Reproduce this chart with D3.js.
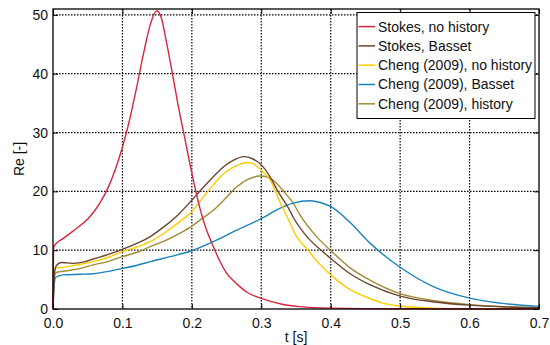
<!DOCTYPE html>
<html><head><meta charset="utf-8">
<script src="https://cdn.jsdelivr.net/npm/d3@7"></script>
<style>body{margin:0;background:#fff}svg{display:block;font-family:"Liberation Sans",Arial,sans-serif}</style>
</head><body><svg id="c" width="550" height="345"></svg>
<script>
const seriesNames = ["Stokes, no history","Stokes, Basset","Cheng (2009), no history","Cheng (2009), Basset","Cheng (2009), history"];
const seriesColors = ["#d7263d","#6b4530","#ffcc00","#1a82bd","#a18c35"];
const xTicks = [0,0.1,0.2,0.3,0.4,0.5,0.6,0.7];
const yTicks = [0,10,20,30,40,50];

const stokesNoHistory = [[0,0],[0.001,10.5],[0.005,11.2],[0.015,12.0],[0.025,12.9],[0.035,13.8],[0.05,15.3],[0.06,16.7],[0.07,18.5],[0.08,20.8],[0.09,23.8],[0.1,27.5],[0.11,32.0],[0.12,37.4],[0.13,43.2],[0.14,48.3],[0.1494,50.7],[0.156,49.5],[0.1624,46],[0.172,40],[0.18,34.8],[0.189,29.5],[0.197,24.8],[0.205,20.4],[0.211,17.4],[0.22,13.8],[0.231,10.6],[0.24,8.2],[0.25,6.1],[0.26,4.8],[0.269,3.8],[0.28,2.8],[0.3,1.8],[0.33,0.8],[0.355,0.4],[0.4,0.15],[0.5,0.03],[0.7,0]];
const stokesBasset = [[0,0],[0.002,6.0],[0.005,7.4],[0.012,7.9],[0.02,7.85],[0.03,7.75],[0.045,8.0],[0.058,8.5],[0.075,9.1],[0.1,10.15],[0.12,11.1],[0.14,12.3],[0.16,14.0],[0.18,16.0],[0.2,18.5],[0.215,20.5],[0.231,22.5],[0.245,24.1],[0.26,25.3],[0.275,25.9],[0.288,25.5],[0.3,24.5],[0.312,22.6],[0.324,20.0],[0.339,17.2],[0.346,15.6],[0.368,12.0],[0.387,9.9],[0.4,8.6],[0.428,6.0],[0.457,4.1],[0.5,2.2],[0.55,1.2],[0.6,0.65],[0.65,0.35],[0.7,0.2]];
const chengNoHistory = [[0,0],[0.001,6.8],[0.005,6.95],[0.02,7.2],[0.04,7.6],[0.058,8.05],[0.08,8.8],[0.1,9.75],[0.12,10.5],[0.14,11.45],[0.1686,13.6],[0.183,14.9],[0.2,16.55],[0.215,18.8],[0.231,21.1],[0.245,22.9],[0.26,24.1],[0.28,24.9],[0.29,24.6],[0.3,23.6],[0.313,21.9],[0.3265,18.3],[0.332,17.0],[0.351,12.3],[0.3678,9.9],[0.385,7.5],[0.4,5.8],[0.428,3.3],[0.452,2.0],[0.475,1.0],[0.5,0.5],[0.55,0.15],[0.6,0.06],[0.7,0.02]];
const chengBasset = [[0,0],[0.002,4.5],[0.004,5.4],[0.015,5.8],[0.04,5.9],[0.058,6.0],[0.08,6.4],[0.1,6.9],[0.12,7.4],[0.14,8.05],[0.1686,8.9],[0.2,9.9],[0.231,11.45],[0.2646,13.4],[0.3006,15.4],[0.3265,17.1],[0.346,18.0],[0.37,18.4],[0.385,18.1],[0.4004,17.4],[0.428,14.7],[0.4566,11.2],[0.475,9.3],[0.5,7.1],[0.5477,3.8],[0.6016,1.8],[0.644,1.0],[0.7,0.45]];
const chengHistory = [[0,0],[0.002,5.5],[0.005,6.2],[0.02,6.5],[0.04,6.9],[0.058,7.5],[0.08,8.1],[0.1,8.9],[0.12,9.6],[0.14,10.6],[0.1686,12.0],[0.183,12.9],[0.2,14.1],[0.215,15.4],[0.231,16.8],[0.25,19.0],[0.265,20.8],[0.28,22.0],[0.298,22.6],[0.31,22.4],[0.32,21.6],[0.333,19.9],[0.346,18.0],[0.3557,16.0],[0.3797,12.3],[0.4004,9.9],[0.428,7.0],[0.4566,4.9],[0.5,2.6],[0.55,1.4],[0.6,0.75],[0.65,0.4],[0.7,0.22]];
const seriesData = [stokesNoHistory, stokesBasset, chengNoHistory, chengBasset, chengHistory];

const svg = d3.select("#c");
const L = 53, R = 539, T = 9, B = 309;
const x = d3.scaleLinear().domain([0,0.7]).range([L,R]);
const y = d3.scaleLinear().domain([0,51]).range([B,T]);

// grid
const grid = svg.append("g").attr("stroke","#000").attr("stroke-width",1.2).attr("stroke-dasharray","1.5,1.5");
xTicks.slice(1,-1).forEach(t=>grid.append("line").attr("x1",x(t)).attr("x2",x(t)).attr("y1",T).attr("y2",B));
yTicks.slice(1).forEach(v=>grid.append("line").attr("x1",L).attr("x2",R).attr("y1",y(v)).attr("y2",y(v)));

// curves
const line = d3.line().x(d=>x(d[0])).y(d=>y(d[1])).curve(d3.curveMonotoneX);
const order = [4,3,2,1,0];
order.forEach(i=>{
  svg.append("path").datum(seriesData[i]).attr("d",line).attr("fill","none")
    .attr("stroke",seriesColors[i]).attr("stroke-width",1.4).attr("stroke-linejoin","round");
});

// axes
const ax = svg.append("g").attr("transform",`translate(0,${B})`).call(d3.axisBottom(x).tickValues(xTicks).tickFormat(d3.format(".1f")).tickSizeInner(-5).tickSizeOuter(0).tickPadding(9));
const ay = svg.append("g").attr("transform",`translate(${L},0)`).call(d3.axisLeft(y).tickValues(yTicks).tickSizeInner(-5).tickSizeOuter(0).tickPadding(5));
const axTop = svg.append("g").attr("transform",`translate(0,${T})`).call(d3.axisTop(x).tickValues(xTicks).tickFormat("").tickSizeInner(-5).tickSizeOuter(0));
const ayR = svg.append("g").attr("transform",`translate(${R},0)`).call(d3.axisRight(y).tickValues(yTicks).tickFormat("").tickSizeInner(-5).tickSizeOuter(0));
[ax,ay,axTop,ayR].forEach(g=>{g.select(".domain").remove();g.selectAll("line").attr("stroke","#000");g.selectAll("text").attr("font-size",14).attr("fill","#111").attr("font-family","Liberation Sans, Arial, sans-serif");});
svg.append("rect").attr("x",L).attr("y",T).attr("width",R-L).attr("height",B-T).attr("fill","none").attr("stroke","#000").attr("stroke-width",1.3);

svg.append("text").attr("x",(L+R)/2).attr("y",342).attr("text-anchor","middle").attr("font-size",14).attr("fill","#111").text("t [s]");
svg.append("text").attr("transform","translate(24,159) rotate(-90)").attr("text-anchor","middle").attr("font-size",14).attr("fill","#111").text("Re [-]");

// legend
const lg = svg.append("g");
lg.append("rect").attr("x",357).attr("y",12.5).attr("width",178).attr("height",106).attr("fill","#fff").attr("stroke","#000").attr("stroke-width",1);
seriesNames.forEach((n,i)=>{
  const yy = 26.6 + i*19.3;
  lg.append("line").attr("x1",358.5).attr("x2",375).attr("y1",yy).attr("y2",yy).attr("stroke",seriesColors[i]).attr("stroke-width",1.5);
  lg.append("text").attr("x",378).attr("y",yy).attr("dy","0.35em").attr("font-size",14).attr("fill","#111").text(n);
});
</script></body></html>
